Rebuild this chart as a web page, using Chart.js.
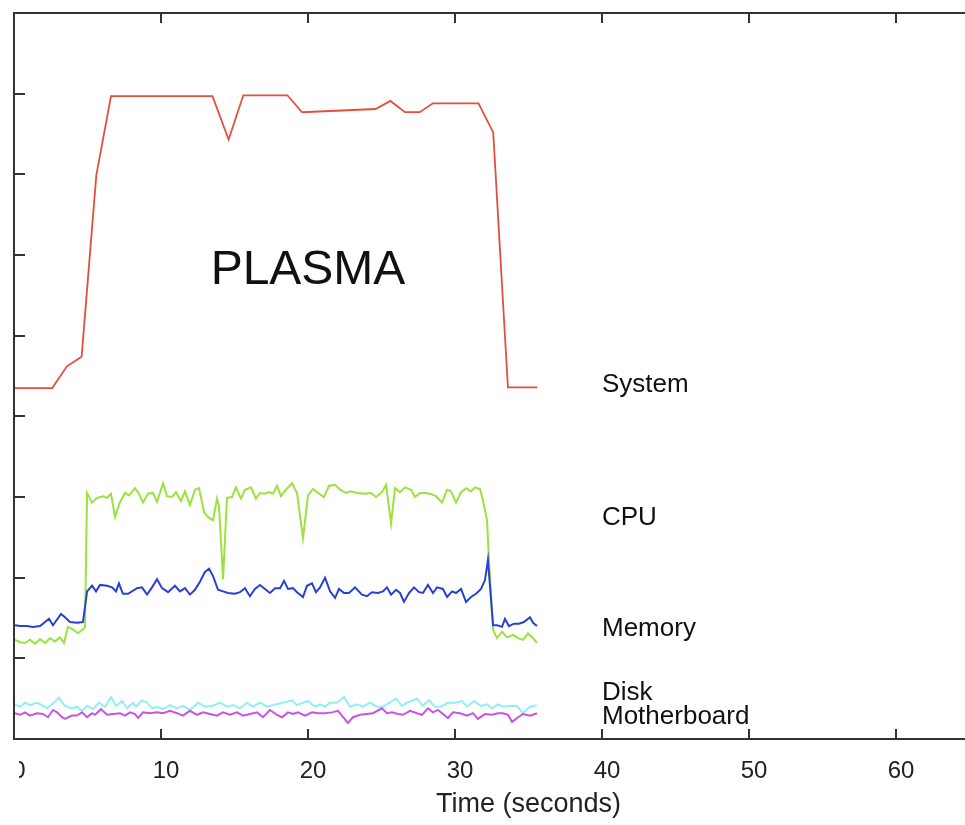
<!DOCTYPE html>
<html>
<head>
<meta charset="utf-8">
<script src="https://cdn.jsdelivr.net/npm/chart.js@4.4.1/dist/chart.umd.min.js"></script>
<style>
  html, body { margin: 0; padding: 0; background: #fff; overflow: hidden; width: 965px; height: 825px; }
  #wrap { position: absolute; left: 0; top: 0; width: 1060px; height: 825px; }
  #mask { position: absolute; left: 0; top: 748px; width: 19px; height: 40px; background: #fff; }
</style>
</head>
<body>
<div id="wrap"><canvas id="c"></canvas></div>
<div id="mask"></div>
<script>
// ---- Data (time in seconds, load in arbitrary units) ----
const sysT = [0, 2.6, 3.6, 4.6, 5.6, 6.6, 13.5, 14.6, 15.6, 18.6, 19.6, 24.6, 25.6, 26.6, 27.6, 28.5, 31.6, 32.6, 33.6, 35.6];
const sysV = [4.35, 4.35, 4.62, 4.74, 6.99, 7.97, 7.97, 7.43, 7.98, 7.98, 7.77, 7.81, 7.91, 7.77, 7.77, 7.88, 7.88, 7.52, 4.36, 4.36];

const cpuT = [0.07, 0.41, 0.75, 1.09, 1.43, 1.77, 2.11, 2.45, 2.79, 3.13, 3.40, 3.67, 4.01, 4.35, 4.69, 4.83,
  4.97, 5.31, 5.65, 6.05, 6.33, 6.60, 6.87, 7.19, 7.55, 7.82, 8.23, 8.50, 8.78, 9.12, 9.46, 9.73, 10.14, 10.41,
  10.75, 11.02, 11.36, 11.63, 11.97, 12.31, 12.59, 12.93, 13.20, 13.54, 13.81, 13.95, 14.22, 14.49, 14.83, 15.10,
  15.44, 15.71, 16.12, 16.46, 16.73, 17.07, 17.35, 17.62, 17.89, 18.16, 18.50, 18.91, 19.25, 19.66, 20.00, 20.34,
  20.75, 21.09, 21.43, 21.84, 22.18, 22.59, 22.93, 23.33, 23.88, 24.29, 24.63, 25.03, 25.31, 25.65, 25.92, 26.26,
  26.60, 27.01, 27.28, 27.62, 27.96, 28.30, 28.71, 29.12, 29.46, 29.73, 30.07, 30.41, 30.75, 31.09, 31.36, 31.70,
  31.90, 32.18, 32.31, 32.59, 32.86, 33.20, 33.54, 33.95, 34.29, 34.63, 34.97, 35.31, 35.58];
const cpuV = [1.23, 1.20, 1.19, 1.23, 1.18, 1.24, 1.19, 1.25, 1.21, 1.26, 1.19, 1.39, 1.36, 1.31, 1.36, 1.39,
  3.05, 2.93, 2.99, 3.01, 2.99, 3.04, 2.75, 2.93, 3.05, 3.02, 3.11, 3.04, 2.93, 3.04, 3.05, 2.94, 3.17, 3.01,
  3.00, 3.06, 2.95, 3.07, 2.90, 3.09, 3.11, 2.81, 2.75, 2.71, 2.98, 2.88, 1.98, 2.99, 3.00, 3.12,
  2.98, 3.09, 3.12, 2.98, 3.05, 3.04, 3.06, 3.04, 3.14, 3.01, 3.09, 3.17, 3.05, 2.49, 3.02, 3.10,
  3.04, 3.00, 3.14, 3.15, 3.09, 3.05, 3.07, 3.05, 3.04, 3.05, 3.00, 3.06, 3.15, 2.67, 3.11, 3.06,
  3.12, 3.09, 3.00, 3.05, 3.05, 3.04, 3.01, 2.93, 3.09, 3.07, 2.93, 3.06, 3.11, 3.07, 3.12, 3.10,
  2.96, 2.71, 2.22, 1.35, 1.25, 1.33, 1.26, 1.29, 1.25, 1.23, 1.31, 1.25, 1.19];

const memT = [0.07, 0.41, 0.88, 1.29, 1.77, 2.11, 2.38, 2.65, 3.20, 3.47, 3.81, 4.29, 4.69,
  4.97, 5.31, 5.58, 5.85, 6.33, 6.67, 6.94, 7.14, 7.41, 7.76, 8.37, 8.71, 9.05, 9.39, 9.73, 10.07, 10.48,
  10.95, 11.29, 11.63, 11.97, 12.31, 12.65, 12.99, 13.27, 13.54, 13.88, 14.22, 14.56, 15.03, 15.37, 15.71,
  16.05, 16.39, 16.73, 17.07, 17.41, 17.76, 18.10, 18.37, 18.64, 18.98, 19.25, 19.66, 19.93, 20.27, 20.54,
  20.82, 21.16, 21.50, 21.84, 22.11, 22.45, 22.79, 23.20, 23.67, 24.01, 24.35, 24.76, 25.10, 25.37, 25.65,
  25.99, 26.26, 26.53, 26.87, 27.21, 27.55, 27.82, 28.16, 28.50, 28.78, 29.18, 29.46, 29.80, 30.07, 30.41,
  30.75, 31.09, 31.43, 31.77, 32.04, 32.24, 32.59, 32.86, 33.20, 33.40, 33.67, 34.01, 34.35, 34.69, 35.10,
  35.31, 35.58];
const memV = [1.41, 1.40, 1.40, 1.39, 1.40, 1.45, 1.49, 1.41, 1.55, 1.51, 1.45, 1.44, 1.45,
  1.83, 1.90, 1.83, 1.91, 1.90, 1.88, 1.83, 1.93, 1.80, 1.80, 1.87, 1.88, 1.79, 1.88, 1.98, 1.87, 1.82,
  1.90, 1.83, 1.87, 1.79, 1.85, 1.95, 2.07, 2.11, 2.02, 1.85, 1.83, 1.81, 1.80, 1.82, 1.87,
  1.77, 1.86, 1.91, 1.86, 1.81, 1.87, 1.87, 1.96, 1.86, 1.87, 1.82, 1.76, 1.90, 1.93, 1.82,
  1.88, 2.00, 1.83, 1.75, 1.86, 1.81, 1.81, 1.88, 1.79, 1.77, 1.82, 1.81, 1.83, 1.88, 1.79,
  1.85, 1.81, 1.70, 1.81, 1.88, 1.82, 1.81, 1.91, 1.81, 1.88, 1.86, 1.76, 1.83, 1.81, 1.86,
  1.70, 1.76, 1.80, 1.86, 1.97, 2.22, 1.41, 1.41, 1.39, 1.49, 1.40, 1.43, 1.43, 1.45, 1.51,
  1.44, 1.40];

const diskT = [0.07, 0.41, 0.75, 1.09, 1.56, 1.90, 2.24, 2.59, 3.06, 3.47, 3.95, 4.29, 4.63, 4.97, 5.37, 5.78,
  6.19, 6.60, 6.94, 7.35, 7.69, 8.10, 8.30, 8.71, 9.05, 9.39, 9.73, 10.14, 10.61, 11.09, 11.50, 11.97, 12.52,
  12.99, 13.47, 14.01, 14.49, 14.90, 15.37, 15.85, 16.26, 16.73, 17.21, 17.62, 18.30, 18.91, 19.25, 19.66,
  20.00, 20.48, 20.82, 21.16, 21.50, 21.97, 22.45, 22.86, 23.33, 23.74, 24.22, 24.69, 25.10, 25.99, 26.39,
  26.73, 27.41, 27.82, 28.23, 28.64, 29.05, 29.52, 30.00, 30.48, 30.82, 31.29, 31.77, 32.18, 32.52, 32.93,
  33.27, 33.74, 34.22, 34.63, 35.10, 35.58];
const diskV = [0.43, 0.40, 0.45, 0.42, 0.45, 0.42, 0.38, 0.43, 0.51, 0.41, 0.38, 0.40, 0.35, 0.41, 0.37, 0.45,
  0.40, 0.52, 0.41, 0.47, 0.38, 0.45, 0.40, 0.48, 0.45, 0.38, 0.40, 0.37, 0.42, 0.38, 0.41, 0.36, 0.45,
  0.40, 0.41, 0.45, 0.40, 0.42, 0.38, 0.45, 0.40, 0.45, 0.40, 0.42, 0.45, 0.48, 0.42, 0.45,
  0.47, 0.40, 0.43, 0.40, 0.45, 0.45, 0.52, 0.40, 0.43, 0.40, 0.45, 0.40, 0.40, 0.50, 0.41,
  0.45, 0.50, 0.41, 0.48, 0.40, 0.40, 0.45, 0.45, 0.47, 0.40, 0.47, 0.41, 0.43, 0.38, 0.43,
  0.40, 0.41, 0.41, 0.32, 0.40, 0.42];

const mbT = [0.07, 0.41, 0.75, 1.09, 1.56, 1.97, 2.31, 2.65, 2.93, 3.27, 3.47, 3.95, 4.29, 4.63, 4.97, 5.31,
  5.51, 5.92, 6.33, 6.73, 7.21, 7.55, 7.89, 8.23, 8.44, 8.78, 9.25, 9.73, 10.14, 10.61, 11.09, 11.50, 11.97,
  12.45, 12.86, 13.33, 13.81, 14.22, 14.69, 15.17, 15.58, 16.05, 16.53, 16.94, 17.41, 17.89, 18.23, 18.64,
  18.98, 19.32, 19.80, 20.27, 20.68, 21.16, 21.63, 22.04, 22.72, 23.06, 23.54, 24.01, 24.42, 25.03, 25.37,
  25.71, 26.12, 26.46, 26.94, 27.41, 27.76, 28.16, 28.50, 28.84, 29.18, 29.52, 29.86, 30.34, 30.82, 31.22,
  31.56, 32.04, 32.52, 32.93, 33.27, 33.61, 33.88, 34.29, 34.63, 35.10, 35.58];
const mbV = [0.32, 0.30, 0.33, 0.29, 0.32, 0.31, 0.27, 0.36, 0.33, 0.27, 0.25, 0.29, 0.29, 0.33, 0.27, 0.32,
  0.30, 0.37, 0.30, 0.31, 0.32, 0.29, 0.33, 0.31, 0.26, 0.33, 0.32, 0.33, 0.32, 0.35, 0.32, 0.29, 0.35,
  0.30, 0.33, 0.31, 0.29, 0.33, 0.30, 0.33, 0.29, 0.31, 0.33, 0.27, 0.36, 0.30, 0.27, 0.33,
  0.31, 0.33, 0.29, 0.33, 0.32, 0.32, 0.33, 0.35, 0.20, 0.27, 0.30, 0.31, 0.32, 0.38, 0.32,
  0.33, 0.31, 0.30, 0.35, 0.32, 0.30, 0.38, 0.33, 0.36, 0.31, 0.26, 0.33, 0.32, 0.29, 0.32,
  0.25, 0.31, 0.30, 0.32, 0.32, 0.30, 0.21, 0.27, 0.31, 0.29, 0.32];

const seriesNames = ['System', 'CPU', 'Memory', 'Disk', 'Motherboard'];
const labelX = 40;                                  // seconds
const labelBaseline = [4.30, 2.65, 1.28, 0.48, 0.19]; // load units
const titleText = 'PLASMA';
const titleAt = { x: 20.0, y: 5.64 };
const xTicks = [0, 10, 20, 30, 40, 50, 60, 70];

const pts = (t, v) => t.map((x, i) => ({ x: x, y: v[i] }));

const FONT = '"Liberation Sans", Arial, Helvetica, sans-serif';

const framePlugin = {
  id: 'frame',
  afterDraw(chart) {
    const ctx = chart.ctx;
    const a = chart.chartArea;
    const xs = chart.scales.x, ys = chart.scales.y;
    ctx.save();
    ctx.strokeStyle = '#333';
    ctx.lineWidth = 2;
    ctx.beginPath();
    ctx.moveTo(a.right + 5, a.top); ctx.lineTo(a.left, a.top);
    ctx.lineTo(a.left, a.bottom); ctx.lineTo(a.right + 5, a.bottom);
    ctx.stroke();
    ctx.beginPath();
    xTicks.forEach(v => {
      if (v <= xs.min || v >= xs.max) return;
      const px = Math.round(xs.getPixelForValue(v));
      ctx.moveTo(px, a.bottom); ctx.lineTo(px, a.bottom - 10);
      ctx.moveTo(px, a.top); ctx.lineTo(px, a.top + 10);
    });
    for (let v = ys.min + 1; v < ys.max; v++) {
      const py = Math.round(ys.getPixelForValue(v));
      ctx.moveTo(a.left, py); ctx.lineTo(a.left + 11, py);
    }
    ctx.stroke();
    // series labels
    ctx.fillStyle = '#111';
    ctx.textBaseline = 'alphabetic';
    ctx.textAlign = 'left';
    ctx.font = '26px ' + FONT;
    seriesNames.forEach((n, i) => {
      ctx.fillText(n, xs.getPixelForValue(labelX), ys.getPixelForValue(labelBaseline[i]));
    });
    ctx.textAlign = 'center';
    ctx.font = '48px ' + FONT;
    ctx.fillText(titleText, xs.getPixelForValue(titleAt.x), ys.getPixelForValue(titleAt.y));
    ctx.restore();
  }
};

new Chart(document.getElementById('c'), {
  type: 'line',
  data: {
    datasets: [
      { label: 'System', data: pts(sysT, sysV), borderColor: '#e0503c', borderWidth: 1.8, order: 1 },
      { label: 'CPU', data: pts(cpuT, cpuV), borderColor: '#9be23e', borderWidth: 2, order: 3 },
      { label: 'Memory', data: pts(memT, memV), borderColor: '#2a40d0', borderWidth: 2, order: 2 },
      { label: 'Disk', data: pts(diskT, diskV), borderColor: '#93eef4', borderWidth: 2, order: 5 },
      { label: 'Motherboard', data: pts(mbT, mbV), borderColor: '#c655e0', borderWidth: 2, order: 4 }
    ]
  },
  options: {
    responsive: true,
    maintainAspectRatio: false,
    animation: false,
    events: [],
    layout: { padding: { left: 14, right: 17, top: 13, bottom: 0 } },
    elements: { point: { radius: 0 }, line: { tension: 0, fill: false } },
    plugins: { legend: { display: false }, tooltip: { enabled: false } },
    scales: {
      x: {
        type: 'linear', min: 0, max: 70,
        afterBuildTicks(s) { s.ticks = xTicks.map(v => ({ value: v })); },
        afterFit(s) { s.height = 86; s.paddingLeft = 0; s.paddingRight = 0; },
        grid: { display: false, drawTicks: false },
        border: { display: false },
        ticks: { color: '#222', font: { size: 24, family: FONT }, padding: 18, labelOffset: 5, maxRotation: 0, autoSkip: false },
        title: { display: true, text: 'Time (seconds)', color: '#222', font: { size: 27, family: FONT }, padding: { top: 0, bottom: 4 } }
      },
      y: {
        min: 0, max: 9,
        afterFit(s) { s.width = 0; s.paddingTop = 0; s.paddingBottom = 0; },
        grid: { display: false, drawTicks: false },
        border: { display: false },
        ticks: { display: false, stepSize: 1 }
      }
    }
  },
  plugins: [framePlugin]
});
</script>
</body>
</html>
